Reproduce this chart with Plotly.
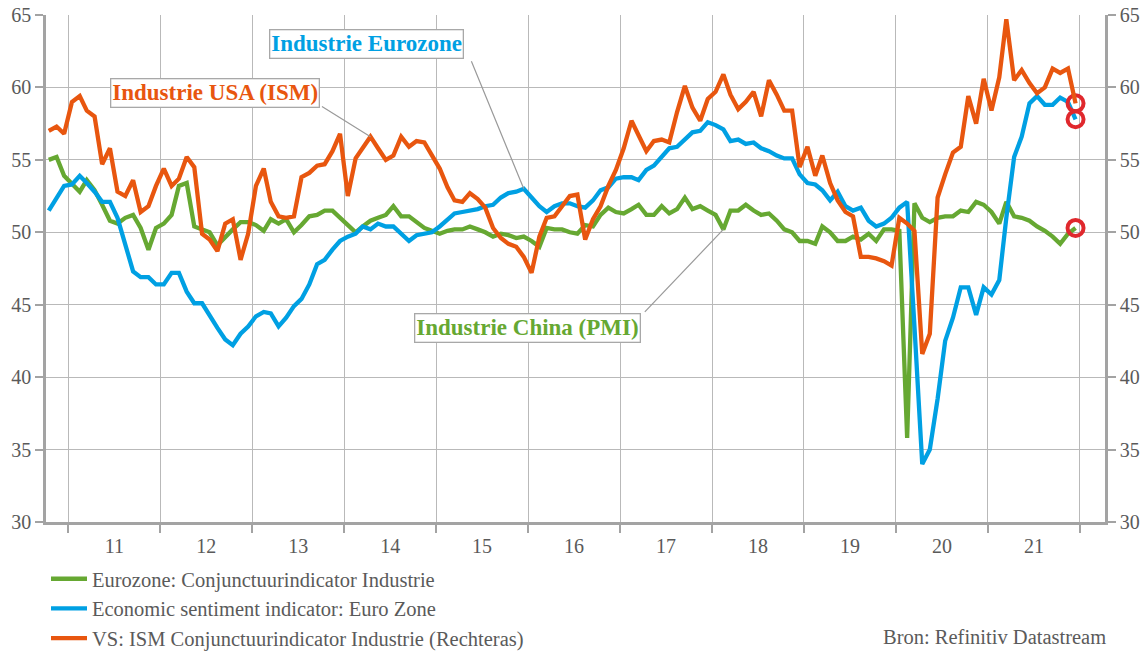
import pandas as pd
import plotly.graph_objects as go

# Monthly observations, Oct 2010 .. Dec 2021 (plotted mid-month)
months = pd.date_range("2010-10-01", "2021-12-01", freq="MS") + pd.Timedelta(days=14)

china_pmi = [
    55.0, 55.2, 53.9, 53.3, 52.8, 53.6, 52.9, 51.9, 50.8, 50.6, 51.0, 51.2,
    50.3, 48.8, 50.3, 50.6, 51.2, 53.2, 53.4, 50.4, 50.2, 50.0, 49.1, 49.7,
    50.2, 50.7, 50.7, 50.5, 50.1, 50.9, 50.6, 50.9, 50.0, 50.5, 51.1, 51.2,
    51.5, 51.5, 51.0, 50.5, 50.0, 50.4, 50.8, 51.0, 51.2, 51.8, 51.1, 51.1,
    50.7, 50.3, 50.1, 49.9, 50.1, 50.2, 50.2, 50.4, 50.2, 50.0, 49.7, 49.9,
    49.8, 49.6, 49.7, 49.4, 49.0, 50.3, 50.2, 50.2, 50.0, 49.9, 50.5, 50.4,
    51.2, 51.7, 51.4, 51.3, 51.6, 51.9, 51.2, 51.2, 51.8, 51.3, 51.6, 52.4,
    51.6, 51.8, 51.5, 51.2, 50.2, 51.5, 51.5, 51.9, 51.5, 51.2, 51.3, 50.8,
    50.2, 50.0, 49.4, 49.4, 49.2, 50.4, 50.0, 49.4, 49.4, 49.7, 49.5, 49.9,
    49.4, 50.2, 50.2, 50.1, 35.8, 52.0, 51.0, 50.7, 51.0, 51.1, 51.1, 51.5,
    51.4, 52.1, 51.9, 51.4, 50.6, 52.1, 51.1, 51.0, 50.8, 50.4, 50.1, 49.7,
    49.2, 49.9, 50.3,
]

eurozone = [
    51.5, 52.4, 53.2, 53.3, 53.9, 53.4, 52.8, 52.1, 52.1, 51.0, 49.2, 47.3,
    46.9, 46.9, 46.4, 46.4, 47.2, 47.2, 45.9, 45.1, 45.1, 44.2, 43.4, 42.6,
    42.2, 43.0, 43.5, 44.2, 44.5, 44.4, 43.5, 44.1, 44.9, 45.4, 46.4, 47.8,
    48.1, 48.8, 49.4, 49.7, 49.9, 50.4, 50.2, 50.6, 50.4, 50.4, 49.9, 49.4,
    49.8, 49.9, 50.0, 50.4, 50.9, 51.3, 51.4, 51.5, 51.6, 51.8, 51.9, 52.4,
    52.7, 52.8, 53.0, 52.4, 51.8, 51.4, 51.8, 52.0, 52.0, 51.8, 51.7, 52.2,
    52.9, 53.1, 53.7, 53.8, 53.8, 53.6, 54.3, 54.6, 55.2, 55.8, 55.9, 56.4,
    56.9, 57.0, 57.6, 57.4, 57.1, 56.3, 56.4, 56.1, 56.2, 55.8, 55.6, 55.3,
    55.1, 55.1, 54.0, 53.4, 53.3, 52.9, 52.2, 52.8, 51.8, 51.5, 51.7, 50.8,
    50.4, 50.6, 51.0, 51.7, 52.1, 43.5, 34.0, 35.0, 38.5, 42.5, 44.1, 46.2,
    46.2, 44.3, 46.2, 45.7, 46.7, 51.0, 55.2, 56.6, 58.9, 59.4, 58.8, 58.8,
    59.3, 59.0, 57.8,
]

ism_usa = [
    57.0, 57.3, 56.8, 59.0, 59.4, 58.4, 58.0, 54.7, 55.8, 52.8, 52.5, 53.6,
    51.4, 51.8, 53.2, 54.4, 53.2, 53.7, 55.2, 54.5, 49.9, 49.5, 48.7, 50.6,
    50.9, 48.1, 49.9, 53.2, 54.4, 52.1, 51.1, 51.0, 51.1, 53.8, 54.1, 54.6,
    54.7, 55.6, 56.8, 52.5, 55.1, 55.8, 56.6, 55.8, 55.0, 55.3, 56.6, 55.9,
    56.3, 56.2, 55.3, 54.4, 53.1, 52.2, 52.1, 52.7, 52.3, 51.7, 50.3, 49.6,
    49.2, 49.0, 48.3, 47.2, 49.7, 51.0, 51.1, 51.8, 52.5, 52.6, 49.5, 50.9,
    51.8, 53.2, 54.3, 55.8, 57.7, 56.7, 55.6, 56.3, 56.4, 56.2, 58.3, 60.1,
    58.6, 57.7, 59.2, 59.7, 60.9, 59.5, 58.5, 59.0, 59.7, 58.0, 60.5, 59.5,
    58.4, 58.4, 54.5, 55.9, 53.9, 55.3, 53.4, 52.2, 51.4, 51.1, 48.3, 48.3,
    48.2, 48.0, 47.7, 51.0, 50.6, 50.1, 41.6, 43.0, 52.4, 54.0, 55.5, 55.9,
    59.4, 57.5, 60.6, 58.4, 60.7, 64.7, 60.5, 61.2, 60.3, 59.6, 60.0, 61.3,
    61.0, 61.3, 58.9,
]

legend_names = [
    "Eurozone: Conjunctuurindicator Industrie",
    "Economic sentiment indicator: Euro Zone",
    "VS: ISM Conjunctuurindicator Industrie (Rechteras)",
]
y_ticks = [30, 35, 40, 45, 50, 55, 60, 65]

GREEN = "#66A832"
BLUE = "#00A0E3"
ORANGE = "#E8560F"
RED = "#E0282D"
GRID = "#b9b9b9"
AXIS = "#a3a3a3"
TXT = "#5a5a5a"
FONT = "Liberation Serif, DejaVu Serif, serif"
LW = 4.3

fig = go.Figure()
fig.add_trace(go.Scatter(x=months, y=china_pmi, mode="lines", name=legend_names[0],
                         line=dict(color=GREEN, width=LW)))
fig.add_trace(go.Scatter(x=months, y=eurozone, mode="lines", name=legend_names[1],
                         line=dict(color=BLUE, width=LW)))
fig.add_trace(go.Scatter(x=months, y=ism_usa, mode="lines", name=legend_names[2],
                         line=dict(color=ORANGE, width=LW), yaxis="y2"))
# end-point circles
fig.add_trace(go.Scatter(x=[months[-1]] * 3, y=[ism_usa[-1], eurozone[-1], china_pmi[-1]],
                         mode="markers", showlegend=False, hoverinfo="skip",
                         marker=dict(symbol="circle-open", size=16, color=RED,
                                     line=dict(width=4, color=RED))))

common_y = dict(range=[30, 65], tickvals=y_ticks, ticks="outside", ticklen=8,
                tickwidth=1.5, tickcolor=AXIS, showline=True, linewidth=2.5,
                linecolor=AXIS, zeroline=False, ticklabeloverflow="allow",
                tickfont=dict(family=FONT, size=20, color=TXT))

fig.update_layout(
    width=1148, height=651,
    margin=dict(l=46, r=43, t=15, b=129, autoexpand=False),
    paper_bgcolor="white", plot_bgcolor="white",
    font=dict(family=FONT, color=TXT),
    xaxis=dict(type="date", range=["2010-10-04", "2022-04-11"],
               dtick="M12", tick0="2011-01-01", ticklabelmode="period",
               tickformat="%y", ticks="outside", ticklen=8, tickwidth=1.5,
               tickcolor=AXIS, showgrid=True, gridcolor=GRID, gridwidth=1.2,
               showline=True, linewidth=3, linecolor=AXIS, zeroline=False,
               ticklabelstandoff=-4, ticklabeloverflow="allow",
               tickfont=dict(family=FONT, size=20, color=TXT)),
    yaxis=dict(side="left", showgrid=True, gridcolor=GRID, gridwidth=1.2, **common_y),
    yaxis2=dict(side="right", overlaying="y", showgrid=False, **common_y),
    showlegend=True,
    legend=dict(orientation="v", x=0.0, xanchor="left", y=-0.0728, yanchor="top",
                font=dict(family=FONT, size=20.5, color=TXT),
                bgcolor="rgba(0,0,0,0)", itemwidth=36, tracegroupgap=0),
)

box = dict(bgcolor="white", bordercolor="#a8a8a8", borderwidth=1.3, borderpad=1,
           xref="paper", yref="paper", xanchor="center", yanchor="middle",
           showarrow=False)
fig.add_annotation(text="<b>Industrie Eurozone</b>", x=0.3022, y=0.9428,
                   font=dict(family=FONT, size=23, color=BLUE), **box)
fig.add_annotation(text="<b>Industrie USA (ISM)</b>", x=0.1596, y=0.8452,
                   font=dict(family=FONT, size=23, color=ORANGE), **box)
fig.add_annotation(text="<b>Industrie China (PMI)</b>", x=0.4547, y=0.3826,
                   font=dict(family=FONT, size=23, color=GREEN), **box)

lead = dict(text="", showarrow=True, arrowhead=0, arrowwidth=1.2,
            arrowcolor="#9a9a9a", axref="pixel", ayref="pixel")
fig.add_annotation(x=months[62], y=eurozone[62], ax=-53, ay=-129, **lead)
fig.add_annotation(x=months[42], y=ism_usa[42], yref="y2", ax=-50, ay=-31, **lead)
fig.add_annotation(x=months[88], y=china_pmi[88], ax=-80, ay=84, **lead)

fig.add_annotation(text="Bron: Refinitiv Datastream", xref="paper", yref="paper",
                   x=1.003, y=-0.2268, xanchor="right", yanchor="middle",
                   showarrow=False, font=dict(family=FONT, size=20.5, color=TXT))

# remove the browser's default 8px body margin so the figure fills the window exactly
fig.write_html("out.html",
               config={"displayModeBar": False},
               post_script="document.body.style.margin='0';document.body.style.overflow='hidden';")
